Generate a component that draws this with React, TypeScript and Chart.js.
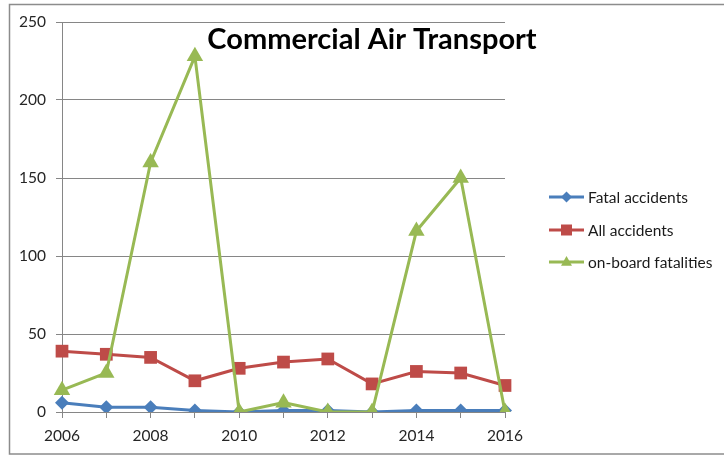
import React, { useEffect, useRef } from 'react';
import { Chart, registerables } from 'chart.js';

Chart.register(...registerables);

const years = ['2006', '2007', '2008', '2009', '2010', '2011', '2012', '2013', '2014', '2015', '2016'];
const fatalAccidents = [6, 3, 3, 1, 0, 1, 1, 0, 1, 1, 1];
const allAccidents = [39, 37, 35, 20, 28, 32, 34, 18, 26, 25, 17];
const onBoardFatalities = [14, 25, 160, 228, 0, 6, 0, 0, 116, 150, 0];
const seriesNames = ['Fatal accidents', 'All accidents', 'on-board fatalities'];
const seriesColors = ['#4A7EBB', '#BE4B48', '#98B954'];
const chartTitle = 'Commercial Air Transport';
const yMin = 0;
const yMax = 250;
const yStep = 50;

const FONT = 'Lato, "Liberation Sans", sans-serif';

function drawMarker(ctx: CanvasRenderingContext2D, kind: number, x: number, y: number, r: number) {
  ctx.beginPath();
  if (kind === 0) {
    ctx.moveTo(x, y - r);
    ctx.lineTo(x + r, y);
    ctx.lineTo(x, y + r);
    ctx.lineTo(x - r, y);
    ctx.closePath();
  } else if (kind === 1) {
    ctx.rect(x - r, y - r, 2 * r, 2 * r);
  } else {
    ctx.moveTo(x, y - r * 1.1);
    ctx.lineTo(x + r, y + r * 0.7);
    ctx.lineTo(x - r, y + r * 0.7);
    ctx.closePath();
  }
  ctx.fill();
}

const decorPlugin = {
  id: 'decor',
  beforeDraw(chart: any) {
    const ctx = chart.ctx as CanvasRenderingContext2D;
    ctx.save();
    ctx.fillStyle = '#ffffff';
    ctx.fillRect(0, 0, chart.width, chart.height);
    ctx.restore();
  },
  afterDraw(chart: any) {
    const ctx = chart.ctx as CanvasRenderingContext2D;
    ctx.save();
    // outer frame
    ctx.strokeStyle = '#8c8c8c';
    ctx.lineWidth = 1.5;
    ctx.strokeRect(9.5, 4.5, 760, 449.5);
    // title
    ctx.fillStyle = '#000000';
    ctx.font = `bold 29px ${FONT}`;
    ctx.textAlign = 'center';
    ctx.textBaseline = 'alphabetic';
    ctx.fillText(chartTitle, 372, 49);
    // legend
    const rows = [197, 230, 262];
    ctx.font = `15.5px ${FONT}`;
    ctx.textAlign = 'left';
    ctx.textBaseline = 'middle';
    seriesNames.forEach((name, i) => {
      const y = rows[i];
      ctx.strokeStyle = seriesColors[i];
      ctx.lineWidth = 3;
      ctx.beginPath();
      ctx.moveTo(549, y);
      ctx.lineTo(584, y);
      ctx.stroke();
      ctx.fillStyle = seriesColors[i];
      drawMarker(ctx, i, 566.5, y, 5.5);
      ctx.fillStyle = '#1a1a1a';
      ctx.fillText(name, 588, y + 1);
    });
    ctx.restore();
  },
};

export default function App() {
  const ref = useRef<HTMLCanvasElement | null>(null);

  useEffect(() => {
    if (!ref.current) return;
    const chart = new Chart(ref.current, {
      type: 'line',
      data: {
        labels: years,
        datasets: [
          {
            label: seriesNames[0],
            data: fatalAccidents,
            borderColor: seriesColors[0],
            backgroundColor: seriesColors[0],
            borderWidth: 3,
            pointStyle: 'rectRot',
            pointRadius: 7,
            pointBorderWidth: 0,
            tension: 0,
            order: 2,
          },
          {
            label: seriesNames[1],
            data: allAccidents,
            borderColor: seriesColors[1],
            backgroundColor: seriesColors[1],
            borderWidth: 3,
            pointStyle: 'rect',
            pointRadius: 9,
            pointBorderWidth: 0,
            tension: 0,
            order: 1,
          },
          {
            label: seriesNames[2],
            data: onBoardFatalities,
            borderColor: seriesColors[2],
            backgroundColor: seriesColors[2],
            borderWidth: 3,
            pointStyle: 'triangle',
            pointRadius: 9.5,
            pointBorderWidth: 0,
            tension: 0,
            order: 0,
          },
        ],
      },
      options: {
        responsive: false,
        animation: false,
        devicePixelRatio: 1,
        layout: { padding: { top: 22, right: 219, left: 0, bottom: 0 } },
        plugins: {
          legend: { display: false },
          title: { display: false },
          tooltip: { enabled: false },
        },
        scales: {
          x: {
            offset: false,
            grid: {
              drawOnChartArea: false,
              drawTicks: true,
              tickLength: 6,
              color: '#868686',
            },
            border: { color: '#868686', width: 1 },
            ticks: {
              autoSkip: false,
              maxRotation: 0,
              padding: 9,
              color: '#262626',
              font: { family: FONT, size: 15.5 },
              callback: (_v: any, i: number) => (i % 2 === 0 ? years[i] : ''),
            },
            afterFit: (s: any) => {
              s.height = 44;
            },
          },
          y: {
            min: yMin,
            max: yMax,
            ticks: {
              stepSize: yStep,
              padding: 10,
              color: '#262626',
              font: { family: FONT, size: 15.5 },
            },
            grid: { color: '#868686', tickLength: 6, lineWidth: 1 },
            border: { color: '#868686', width: 1 },
            afterFit: (s: any) => {
              s.width = 62;
            },
          },
        },
      },
      plugins: [decorPlugin],
    } as any);
    return () => chart.destroy();
  }, []);

  return (
    <div style={{ position: 'absolute', left: 0, top: 0, width: 724, height: 456 }}>
      <canvas ref={ref} width={724} height={456} style={{ display: 'block' }} />
    </div>
  );
}
